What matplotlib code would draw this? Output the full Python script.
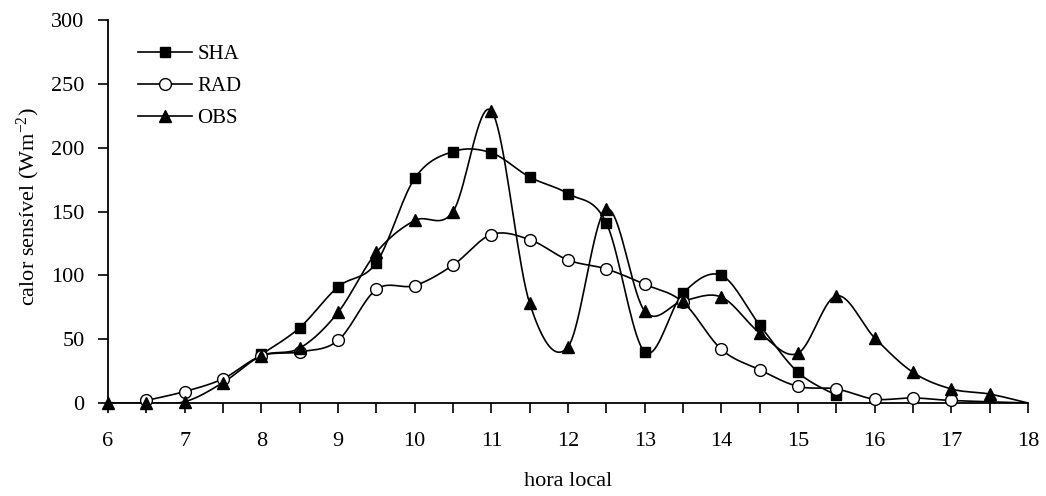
import numpy as np
import matplotlib
matplotlib.use("Agg")
import matplotlib.pyplot as plt
from matplotlib.ticker import MultipleLocator

plt.rcParams['font.family'] = ['Liberation Serif', 'DejaVu Serif']
plt.rcParams['mathtext.fontset'] = 'custom'
plt.rcParams['mathtext.rm'] = 'Liberation Serif'
plt.rcParams['mathtext.it'] = 'Liberation Serif:italic'

# Data
sha_x = [8, 8.5, 9, 9.5, 10, 10.5, 11, 11.5, 12, 12.5, 13, 13.5, 14, 14.5, 15, 15.5]
sha_y = [38, 59, 91, 110, 176, 197, 196, 177, 164, 141, 40, 86, 100, 61, 24, 6]

rad_x = [6.5, 7, 7.5, 8, 8.5, 9, 9.5, 10, 10.5, 11, 11.5, 12, 12.5, 13, 13.5, 14,
         14.5, 15, 15.5, 16, 16.5, 17, 18]
rad_y = [2, 9, 19, 37, 40, 49, 89, 92, 108, 132, 128, 112, 105, 93, 79, 42,
         26, 13, 11, 3, 4, 2, 0]

obs_x = [6, 6.5, 7, 7.5, 8, 8.5, 9, 9.5, 10, 10.5, 11, 11.5, 12, 12.5, 13, 13.5,
         14, 14.5, 15, 15.5, 16, 16.5, 17, 17.5, 18]
obs_y = [0, 0, 1, 16, 37, 43, 71, 118, 143, 150, 229, 78, 44, 152, 72, 80,
         83, 55, 39, 84, 51, 24, 11, 7, 0]

x_ticks = [6, 7, 8, 9, 10, 11, 12, 13, 14, 15, 16, 17, 18]
y_ticks = [0, 50, 100, 150, 200, 250, 300]


def smooth(xs, ys, n=20):
    """Excel-style smoothed line (cubic Bezier / Catmull-Rom)."""
    p = np.column_stack([xs, ys]).astype(float)
    if len(p) < 3:
        return p[:, 0], p[:, 1]
    ext = np.vstack([p[0], p, p[-1]])
    out = []
    t = np.linspace(0, 1, n)[:, None]
    for i in range(1, len(ext) - 2):
        p0, p1, p2, p3 = ext[i - 1], ext[i], ext[i + 1], ext[i + 2]
        c1 = p1 + (p2 - p0) / 6.0
        c2 = p2 - (p3 - p1) / 6.0
        seg = ((1 - t) ** 3) * p1 + 3 * ((1 - t) ** 2) * t * c1 + 3 * (1 - t) * t ** 2 * c2 + t ** 3 * p2
        out.append(seg if i == 1 else seg[1:])
    out = np.vstack(out)
    return out[:, 0], out[:, 1]


fig = plt.figure(figsize=(10.46, 4.96), dpi=100)
ax = fig.add_axes([0.1033, 0.1875, 0.8795, 0.772])

lw = 1.2
styles = [
    (sha_x, sha_y, 's', 'black', 'SHA', 7.5, len(sha_x)),
    (rad_x, rad_y, 'o', 'white', 'RAD', 8.5, len(rad_x) - 1),
    (obs_x, obs_y, '^', 'black', 'OBS', 8.5, len(obs_x) - 1),
]
for xs, ys, mk, mfc, label, ms, nmark in styles:
    sx, sy = smooth(xs, ys)
    ax.plot(sx, sy, color='black', lw=lw, zorder=2)
    ax.plot(xs[:nmark], ys[:nmark], linestyle='none', marker=mk, markersize=ms,
            markerfacecolor=mfc, markeredgecolor='black', markeredgewidth=1.0,
            zorder=3, clip_on=False)
    ax.plot([], [], color='black', lw=lw, marker=mk, markersize=ms,
            markerfacecolor=mfc, markeredgecolor='black', label=label)

ax.set_xlim(6, 18)
ax.set_ylim(0, 300)
ax.set_xticks(x_ticks)
ax.xaxis.set_minor_locator(MultipleLocator(0.5))
ax.set_yticks(y_ticks)
for s in ['top', 'right']:
    ax.spines[s].set_visible(False)
for s in ['left', 'bottom']:
    ax.spines[s].set_linewidth(1.3)
ax.tick_params(axis='both', which='major', direction='out', length=7, width=1.2,
               labelsize=16, colors='black')
ax.tick_params(axis='x', which='minor', direction='out', length=7, width=1.2)
ax.tick_params(axis='x', pad=14)
ax.tick_params(axis='y', pad=10)

ax.set_xlabel('hora local', fontsize=16)
ax.xaxis.set_label_coords(0.5, -0.205)
ax.xaxis.label.set_va('center')
ax.set_ylabel('calor sensível (Wm$^{-2}$)', fontsize=16)
ax.yaxis.set_label_coords(-0.087, 0.514)
ax.yaxis.label.set_va('center')

leg = ax.legend(loc='upper left', bbox_to_anchor=(0.012, 0.985), frameon=False,
                fontsize=15, handlelength=2.6, labelspacing=0.6, handletextpad=0.25)

fig.savefig('out.png', dpi=100)
